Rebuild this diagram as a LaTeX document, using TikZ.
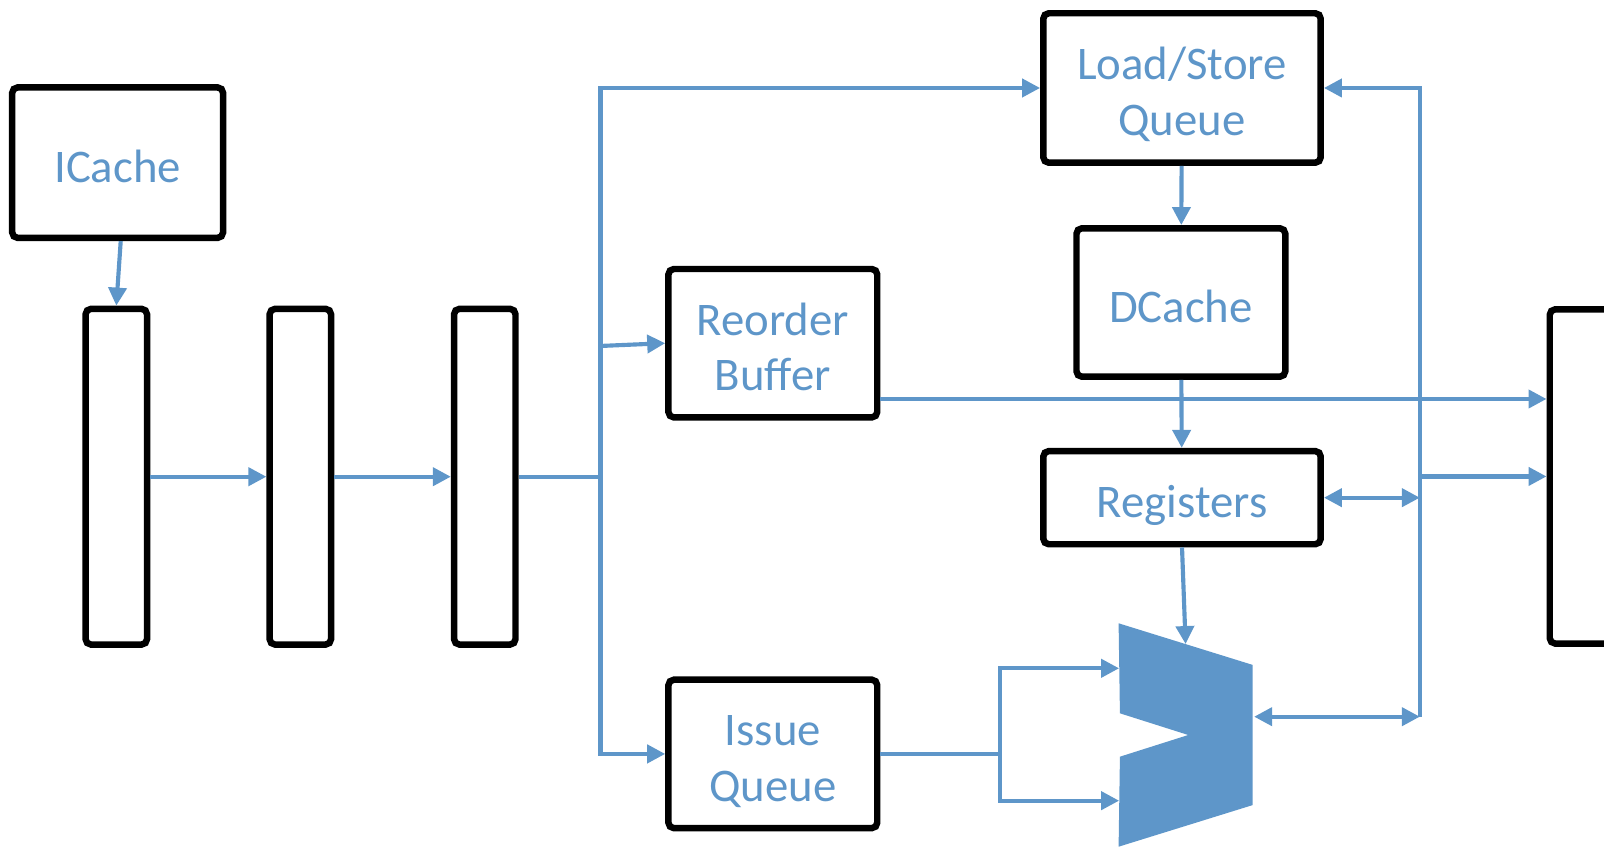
\documentclass[tikz,border=0pt]{standalone}
\usepackage{fontspec}
\setmainfont{Carlito}
\usepackage{tikz}
\usetikzlibrary{arrows.meta}
\usetikzlibrary{calc}

\definecolor{wire}{HTML}{5E96C9}

\begin{document}
\begin{tikzpicture}[x=0.01cm, y=-0.01cm, >={Triangle[length=5pt,width=5pt]},
        box/.style={draw=black, line width=1.8pt, rounded corners=1.5pt, inner sep=0pt, text=wire, text depth=0pt, align=center, font=\fontsize{13}{15.5}\selectfont, execute at begin node={\rule{0pt}{11pt}}},
        twoline/.style={box, execute at begin node={\rule{0pt}{26.5pt}}},
        latch/.style={box, minimum width=0.6cm, minimum height=3.28cm},
        link/.style={draw=wire, line width=1.15pt}]
        \useasboundingbox (0,0) rectangle (1568,830);
        \clip (0,0) rectangle (1568,830);

        \node[box, minimum width=2.06cm, minimum height=1.47cm] (icache) at (115,159) {ICache};
        \node[latch] (fetch) at (113.7,466) {};
        \node[latch] (decode) at (293.6,466) {};
        \node[latch] (rename) at (473.9,466) {};
        \node[twoline, minimum width=2.04cm, minimum height=1.45cm] (rob) at (755.5,335.5) {Reorder\\Buffer};
        \node[twoline, minimum width=2.04cm, minimum height=1.45cm] (iq) at (755.5,737) {Issue\\Queue};
        \node[twoline, minimum width=2.71cm, minimum height=1.46cm] (lsq) at (1155.5,86) {Load/Store\\Queue};
        \node[box, minimum width=2.04cm, minimum height=1.45cm] (dcache) at (1154.4,295.7) {DCache};
        \node[box, minimum width=2.71cm, minimum height=0.91cm] (regs) at (1155.5,486.5) {Registers};
        \node[box, minimum width=1cm, minimum height=3.265cm] (commit) at (1565,465.75) {};

        \coordinate (aluA) at (1093.5,609.3);
        \coordinate (aluB) at (1224.6,650);
        \coordinate (aluC) at (1224.6,787);
        \coordinate (aluD) at (1093.5,827.7);
        \coordinate (aluE) at (1094.8,739.7);
        \coordinate (aluF) at (1161.6,718.5);
        \coordinate (aluG) at (1094.8,697.3);
        \fill[wire] (aluA) -- (aluB) -- (aluC) -- (aluD) -- (aluE) -- (aluF) -- (aluG) -- cycle;

        \coordinate (busTop) at (587,86);
        \coordinate (busRob) at (587,338.2);
        \coordinate (busBot) at (587,737);
        \coordinate (rbTop) at (1388,86);
        \coordinate (rbBot) at (1388,700.6);
        \coordinate (aluTop) at (1159,629.6);
        \coordinate (aluOut) at (1226,700.6);
        \coordinate (aluIn1) at (1094,653.3);
        \coordinate (aluIn2) at (1094,782.7);
        \coordinate (fork) at (977.5,737);
        \coordinate (forkTop) at (977.5,653.3);
        \coordinate (forkBot) at (977.5,782.7);
        \coordinate (robOut) at ([yshift=-5.45mm]rob.east);
        \coordinate (icacheOut) at ([xshift=0.3mm]icache.south);

        \draw[link, ->] (icacheOut) -- (fetch.north);
        \draw[link, ->] (fetch) -- (decode);
        \draw[link, ->] (decode) -- (rename);
        \draw[link] (rename.east) -- (rename.east -| busTop);
        \draw[link, ->] (busBot) -- (busTop) -- (lsq.west);
        \draw[link, ->] (busTop) -- (busBot) -- (iq.west);
        \draw[link, ->] (busRob) -- (rob.west);
        \draw[link, ->] (lsq) -- (dcache);
        \draw[link, ->] (dcache) -- (regs);
        \draw[link, ->] (robOut) -- (robOut -| commit.west);
        \draw[link, ->] (rbBot) -- (rbTop) -- (lsq.east);
        \draw[link, <->] (regs.east) -- (regs.east -| rbTop);
        \draw[link, ->] (rbTop |- commit.west) -- (commit.west);
        \draw[link, <->] (aluOut) -- (rbBot);
        \draw[link, ->] (regs.south) -- (aluTop);
        \draw[link] (iq.east) -- (fork);
        \draw[link, ->] (forkBot) -- (forkTop) -- (aluIn1);
        \draw[link, ->] (forkTop) -- (forkBot) -- (aluIn2);
\end{tikzpicture}
\end{document}
